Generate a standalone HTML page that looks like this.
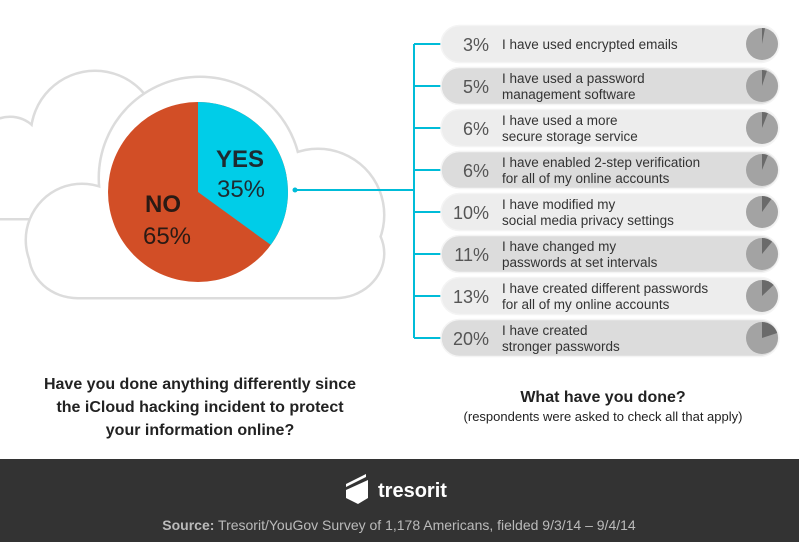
<!DOCTYPE html>
<html><head><meta charset="utf-8"><style>
body{margin:0;width:799px;height:542px;overflow:hidden;background:#fff;font-family:"Liberation Sans",sans-serif;}
svg{position:absolute;left:0;top:0}
</style></head><body>
<svg id="s" width="799" height="542" viewBox="0 0 799 542">
<g stroke="#dcdcdc" stroke-width="5" fill="#dcdcdc">
<circle cx="95" cy="135" r="63"/><circle cx="10" cy="150" r="32"/><rect x="-20" y="150" width="120" height="68" rx="10"/>
</g>
<g fill="#fff">
<circle cx="95" cy="135" r="63"/><circle cx="10" cy="150" r="32"/><rect x="-20" y="150" width="120" height="68" rx="10"/>
</g>
<g stroke="#dcdcdc" stroke-width="5" fill="#dcdcdc">
<circle cx="200" cy="178" r="100"/><circle cx="82" cy="240" r="55"/><circle cx="318" cy="215" r="65"/><rect x="30" y="210" width="353" height="87" rx="48"/>
</g>
<g fill="#fff">
<circle cx="200" cy="178" r="100"/><circle cx="82" cy="240" r="55"/><circle cx="318" cy="215" r="65"/><rect x="30" y="210" width="353" height="87" rx="48"/>
</g>
<circle cx="198" cy="192" r="90" fill="#d24e26"/>
<path d="M198 192 L198 102 A90 90 0 0 1 270.8 244.9 Z" fill="#00cde8"/>
<text x="240" y="167" text-anchor="middle" font-size="24" font-weight="bold" fill="#1e2a30">YES</text>
<text x="241" y="197" text-anchor="middle" font-size="24" fill="#1e2a30">35%</text>
<text x="163" y="212" text-anchor="middle" font-size="24" font-weight="bold" fill="#2a1a14">NO</text>
<text x="167" y="244" text-anchor="middle" font-size="24" fill="#2a1a14">65%</text>
<circle cx="295" cy="190" r="2.5" fill="#00bcd8"/>
<g stroke="#00bcd8" stroke-width="2" fill="none">
<line x1="295" y1="190" x2="414" y2="190"/><line x1="414" y1="44" x2="414" y2="338"/>
</g>
<g id="rows"></g>
<text x="200" y="389" text-anchor="middle" font-size="16" font-weight="bold" fill="#222">Have you done anything differently since</text>
<text x="200" y="412" text-anchor="middle" font-size="16" font-weight="bold" fill="#222">the iCloud hacking incident to protect</text>
<text x="200" y="435" text-anchor="middle" font-size="16" font-weight="bold" fill="#222">your information online?</text>
<text x="603" y="402" text-anchor="middle" font-size="16" font-weight="bold" fill="#222">What have you done?</text>
<text x="603" y="421" text-anchor="middle" font-size="13" fill="#222">(respondents were asked to check all that apply)</text>
<rect x="0" y="459" width="799" height="83" fill="#333"/>
<path d="M346 490 L368 480 L368 498 L358 504 L346 498 Z" fill="#fff"/>
<path d="M346 484 L366 474 L366 477 L346 487 Z" fill="#fff"/>
<text x="378" y="497" font-size="20" font-weight="bold" fill="#fff">tresorit</text>
<text x="399" y="530" text-anchor="middle" font-size="14" fill="#bbb"><tspan font-weight="bold">Source:</tspan> Tresorit/YouGov Survey of 1,178 Americans, fielded 9/3/14 – 9/4/14</text>
</svg>
<script>
var d=[[3,"I have used encrypted emails"],[5,"I have used a password","management software"],[6,"I have used a more","secure storage service"],[6,"I have enabled 2-step verification","for all of my online accounts"],[10,"I have modified my","social media privacy settings"],[11,"I have changed my","passwords at set intervals"],[13,"I have created different passwords","for all of my online accounts"],[20,"I have created","stronger passwords"]];
var h="";
d.forEach(function(r,i){var y=44+42*i;
h+='<line x1="414" y1="'+y+'" x2="441" y2="'+y+'" stroke="#00bcd8" stroke-width="2"/>';
h+='<rect x="441" y="'+(y-18.5)+'" width="338" height="37" rx="18.5" fill="'+(i%2?'#dcdcdc':'#ededed')+'" stroke="#f4f4f4" stroke-width="1.5"/>';
h+='<text x="489" y="'+(y+7)+'" text-anchor="end" font-size="18" fill="#555">'+r[0]+'%</text>';
if(r.length==2)h+='<text x="502" y="'+(y+5)+'" font-size="13.5" fill="#333">'+r[1]+'</text>';
else h+='<text x="502" y="'+(y-3)+'" font-size="13.5" fill="#333">'+r[1]+'</text><text x="502" y="'+(y+13)+'" font-size="13.5" fill="#333">'+r[2]+'</text>';
var cx=762,R=16,a=r[0]/100*2*Math.PI;
h+='<circle cx="'+cx+'" cy="'+y+'" r="'+R+'" fill="#a3a3a3"/>';
h+='<path d="M'+cx+' '+y+' L'+cx+' '+(y-R)+' A'+R+' '+R+' 0 0 1 '+(cx+R*Math.sin(a)).toFixed(2)+' '+(y-R*Math.cos(a)).toFixed(2)+' Z" fill="#6a6a6a"/>';
});
document.getElementById("rows").innerHTML=h;
</script>
</body></html>
